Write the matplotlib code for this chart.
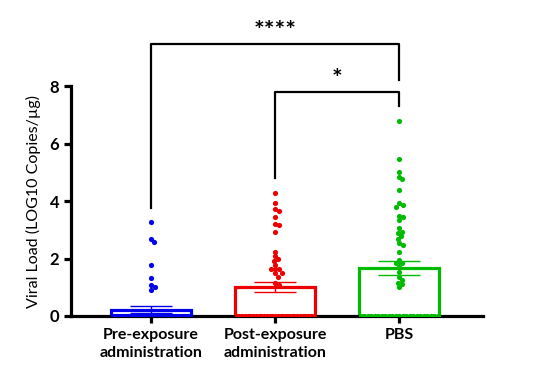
import numpy as np
import matplotlib
matplotlib.use("Agg")
import matplotlib.pyplot as plt

plt.rcParams['font.family'] = ['Lato', 'DejaVu Sans']

categories = ["Pre-exposure\nadministration", "Post-exposure\nadministration", "PBS"]
colors = ["#0000ee", "#ee0000", "#00bb00"]

pre_vals = [3.26, 2.69, 2.58, 1.78, 1.32, 1.07, 1.0, 0.9] + [0.0] * 52
post_vals = [4.28, 3.93, 3.71, 3.65, 3.44, 3.2, 3.15, 2.92, 2.24, 2.09, 1.97, 1.92,
             1.77, 1.63, 1.63, 1.63, 1.51, 1.48, 1.37, 1.14, 1.08] + [0.0] * 29
pbs_vals = [6.8, 5.45, 5.02, 4.85, 4.75, 4.4, 3.86, 3.92, 3.8, 3.43, 3.48, 3.34,
            3.05, 2.93, 2.88, 2.77, 2.67, 2.53, 2.47, 2.24, 1.95, 1.83, 1.85, 1.72,
            1.54, 1.37, 1.25, 1.16, 1.11, 1.0] + [0.0] * 23
groups = [pre_vals, post_vals, pbs_vals]

means = [0.22, 1.0, 1.68]
sems = [0.12, 0.17, 0.24]

fig = plt.figure(figsize=(5.35, 3.89), dpi=100)
ax = fig.add_axes([0.133, 0.1877, 0.770, 0.591])
ax.set_xlim(-0.645, 2.677)
ax.set_ylim(0, 8)

# px per data unit
px_x = 124.0
px_y = 28.75
dot_d = 5.0  # px


def swarm(vals):
    order = np.argsort(vals)[::-1]
    placed = []
    offs = np.zeros(len(vals))
    for i in order:
        y = vals[i] * px_y
        if vals[i] == 0:
            continue
        cands = [0.0]
        for k in range(1, 40):
            cands += [k * 1.0, -k * 1.0]
        for c in cands:
            ok = True
            for (px, py) in placed:
                if (px - c) ** 2 + (py - y) ** 2 < (dot_d * 0.8) ** 2:
                    ok = False
                    break
            if ok:
                offs[i] = c
                placed.append((c, y))
                break
    zeros = [i for i in range(len(vals)) if vals[i] == 0]
    if zeros:
        half = 0.31 * px_x
        xs = np.linspace(-half, half, len(zeros))
        for j, i in enumerate(zeros):
            offs[i] = xs[j]
    return offs / px_x


for i, (vals, col) in enumerate(zip(groups, colors)):
    ax.bar(i, means[i], width=0.65, facecolor="white", edgecolor=col, linewidth=2.3, zorder=2)
    offs = swarm(np.array(vals))
    ax.scatter(i + offs, vals, s=14, color=col, zorder=6, linewidths=0)
    ax.errorbar(i, means[i], yerr=sems[i], color=col, capsize=15, elinewidth=1.0,
                capthick=1.0, zorder=4, fmt="none")

for s in ["top", "right"]:
    ax.spines[s].set_visible(False)
for s in ["left", "bottom"]:
    ax.spines[s].set_linewidth(2.3)
    ax.spines[s].set_zorder(5)

ax.set_yticks([0, 2, 4, 6, 8])
ax.set_xticks([0, 1, 2])
ax.set_xticklabels(categories, linespacing=1.35)
ax.tick_params(axis="both", width=2.3, length=5, labelsize=12)
for lab in ax.get_yticklabels():
    lab.set_fontweight("bold")
for lab in ax.get_xticklabels():
    lab.set_fontweight("bold")
    lab.set_fontsize(11.5)
ax.set_ylabel("Viral Load (LOG10 Copies/µg)", fontsize=11.5, labelpad=6)

# significance brackets
lw = 1.6
ax.plot([0, 0, 2, 2], [3.76, 9.46, 9.46, 8.2], color="black", lw=lw, clip_on=False)
ax.text(1, 9.5, "****", ha="center", va="bottom", fontsize=18, fontweight="bold")
ax.plot([1, 1, 2, 2], [4.8, 7.79, 7.79, 7.3], color="black", lw=lw, clip_on=False)
ax.text(1.5, 7.83, "*", ha="center", va="bottom", fontsize=18, fontweight="bold")

fig.savefig("out.png", dpi=100)
